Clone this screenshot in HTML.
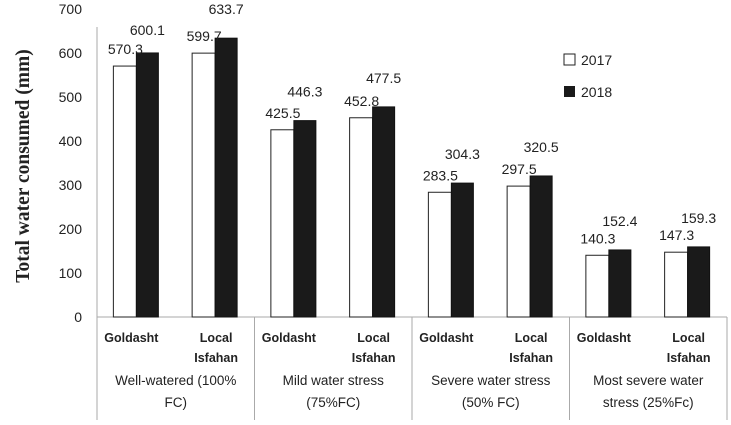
<!DOCTYPE html>
<html><head><meta charset="utf-8"><style>
body{margin:0;background:#fff}
svg text{font-family:"Liberation Sans",sans-serif;fill:#222}
</style></head><body>
<svg id="c" width="731" height="420" xmlns="http://www.w3.org/2000/svg"></svg>
<script>
const groups=["Well-watered (100%|FC)","Mild water stress|(75%FC)","Severe water stress|(50% FC)","Most severe water|stress (25%Fc)"];
const cultivars=["Goldasht","Local|Isfahan"];
const s2017=[570.3,599.7,425.5,452.8,283.5,297.5,140.3,147.3];
const s2018=[600.1,633.7,446.3,477.5,304.3,320.5,152.4,159.3];
const yTicks=[0,100,200,300,400,500,600,700];
const svg=document.getElementById('c');
const NS="http://www.w3.org/2000/svg";
const x0=97,x1=727,y0=317,k=0.44;
const y=v=>y0-v*k;
const sub=(x1-x0)/8;
function mk(t,a,name,txt){const e=document.createElementNS(NS,t);for(const q in a)e.setAttribute(q,a[q]);


if(txt!=null)e.textContent=txt;svg.appendChild(e);return e;}
mk('line',{x1:x0,y1:y(700)+18,x2:x0,y2:420,stroke:'#aaa'},'y-axis');
mk('line',{x1:x0,y1:y0,x2:x1,y2:y0,stroke:'#aaa'},'x-axis');
mk('line',{x1:x1,y1:y0,x2:x1,y2:420,stroke:'#aaa'},'x-axis-right-edge');
yTicks.forEach(v=>mk('text',{x:82,y:y(v)+5,'text-anchor':'end','font-size':14},'y-tick-label',v));
for(let g=1;g<4;g++){const xx=x0+g*2*sub;mk('line',{x1:xx,y1:y0,x2:xx,y2:420,stroke:'#aaa'},'group-separator');}
for(let i=0;i<8;i++){
 const cx=x0+sub*(i+0.5);
 const a=s2017[i],b=s2018[i];
 mk('rect',{x:cx-23,y:y(a),width:23,height:a*k,fill:'#fff',stroke:'#222','stroke-width':1},'bar-2017');
 mk('rect',{x:cx,y:y(b),width:22,height:b*k,fill:'#1a1a1a',stroke:'#111'},'bar-2018');
 mk('text',{x:cx-11,y:y(a)-12,'text-anchor':'middle','font-size':14},'value-label-2017',a.toFixed(1));
 mk('text',{x:cx+11,y:y(b)-(i===0?18:24),'text-anchor':'middle','font-size':14},'value-label-2018',b.toFixed(1));
 const lab=cultivars[i%2].split('|');
 if(lab.length===1)mk('text',{x:cx-5,y:342,'text-anchor':'middle','font-size':12.5,'font-weight':'bold'},'cultivar-label',lab[0]);
 else{mk('text',{x:cx+1,y:342,'text-anchor':'middle','font-size':12.5,'font-weight':'bold'},'cultivar-label',lab[0]);
  mk('text',{x:cx+1,y:362,'text-anchor':'middle','font-size':12.5,'font-weight':'bold'},'cultivar-label',lab[1]);}
}
groups.forEach((gname,g)=>{const cx=x0+sub*(2*g+1);const l=gname.split('|');
 mk('text',{x:cx,y:385,'text-anchor':'middle','font-size':13.5},'treatment-label',l[0]);
 mk('text',{x:cx,y:407,'text-anchor':'middle','font-size':13.5},'treatment-label',l[1]);});
mk('rect',{x:564,y:54,width:11,height:11,fill:'#fff',stroke:'#222'},'legend-swatch-2017');
mk('text',{x:581,y:65,'font-size':14},'legend-label-2017','2017');
mk('rect',{x:564,y:86,width:11,height:11,fill:'#1a1a1a'},'legend-swatch-2018');
mk('text',{x:581,y:97,'font-size':14},'legend-label-2018','2018');
mk('text',{x:0,y:0,'text-anchor':'middle','font-size':19.5,'font-weight':'bold',transform:'translate(29,166) rotate(-90)',style:'font-family:"Liberation Serif",serif'},'y-axis-title','Total water consumed (mm)');
</script>
</body></html>
